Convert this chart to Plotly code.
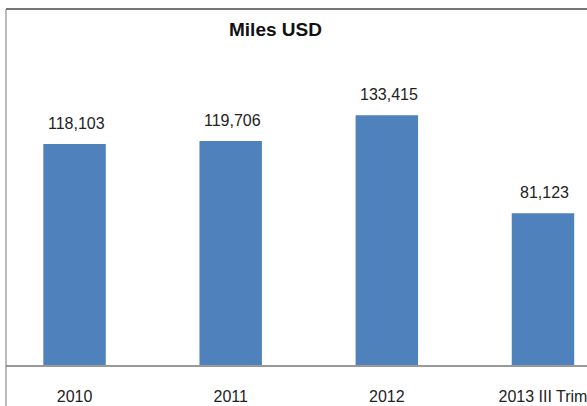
import plotly.graph_objects as go

categories = ["2010", "2011", "2012", "2013 III Trim"]
values = [118103, 119706, 133415, 81123]
value_labels = ["118,103", "119,706", "133,415", "81,123"]
title_text = "Miles USD"

fig = go.Figure()
fig.add_trace(go.Bar(
    x=categories, y=values, width=0.4,
    marker=dict(color="#4F81BD", line=dict(width=0)),
    hoverinfo="skip",
))

for i, (v, t) in enumerate(zip(values, value_labels)):
    fig.add_annotation(x=i, y=v, text=t, showarrow=False, yanchor="bottom",
                       xshift=2, yshift=10,
                       font=dict(family="Liberation Sans, Arial", size=16, color="#222"))

fig.add_annotation(xref="paper", yref="paper", x=0.463, y=1, yanchor="top", yshift=-8,
                   text="<b>" + title_text + "</b>", showarrow=False,
                   font=dict(family="Liberation Sans, Arial", size=19, color="#111"))

# chart-area frame (top and left edges)
fig.add_shape(type="line", xref="paper", yref="paper", x0=0, x1=1.1, y0=1, y1=1,
              line=dict(color="#777", width=2))
fig.add_shape(type="line", xref="paper", yref="paper", x0=0, x1=0, y0=1, y1=-0.2,
              line=dict(color="#777", width=1))

fig.update_layout(
    width=587, height=406,
    margin=dict(l=6, r=0, t=9, b=41),
    paper_bgcolor="white", plot_bgcolor="white",
    showlegend=False,
    bargap=0.6,
    xaxis=dict(type="category", range=[-0.439, 3.282], showgrid=False,
               showline=True, linecolor="#999", linewidth=2,
               ticks="outside", ticklen=16, tickcolor="rgba(0,0,0,0)",
               tickfont=dict(family="Liberation Sans, Arial", size=16, color="#222")),
    yaxis=dict(range=[0, 190250], showgrid=False, zeroline=False,
               showticklabels=False, showline=False),
)

fig.write_html("out.html")
